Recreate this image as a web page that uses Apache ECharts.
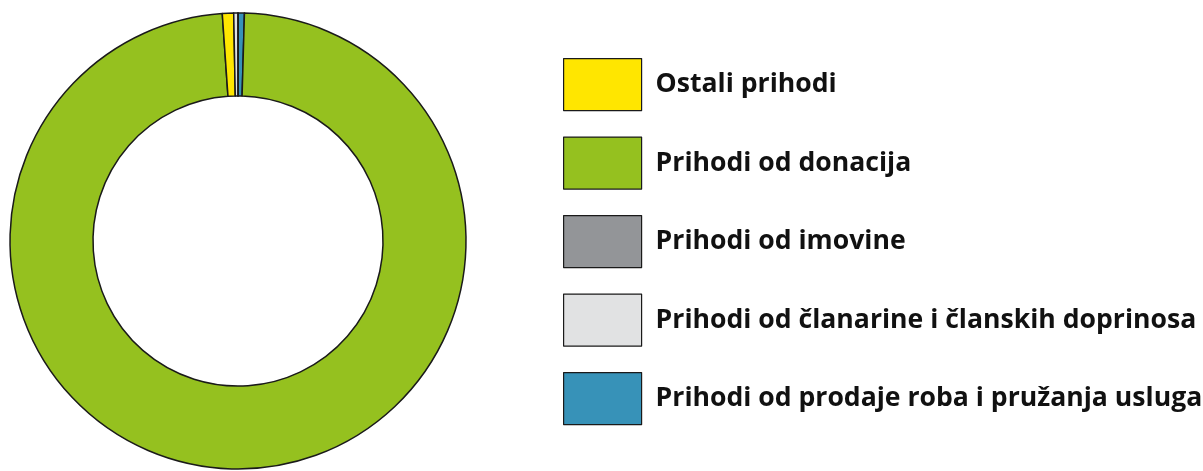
<!DOCTYPE html>
<html>
<head>
<meta charset="utf-8">
<script src="https://cdn.jsdelivr.net/npm/echarts@6/dist/echarts.min.js"></script>
<style>
  html, body { margin: 0; padding: 0; background: #fff; }
  #chart { width: 1203px; height: 471px; }
</style>
</head>
<body>
<div id="chart"></div>
<script>
// legend order
var legendNames = [
  "Ostali prihodi",
  "Prihodi od donacija",
  "Prihodi od imovine",
  "Prihodi od članarine i članskih doprinosa",
  "Prihodi od prodaje roba i pružanja usluga"
];
// slice order, clockwise from 12 o'clock
var sliceNames = [
  "Prihodi od prodaje roba i pružanja usluga",
  "Prihodi od donacija",
  "Ostali prihodi",
  "Prihodi od članarine i članskih doprinosa",
  "Prihodi od imovine"
];
var sliceValues = [0.45, 98.45, 0.8, 0.3, 0];
var colorByName = {
  "Ostali prihodi": "#ffe600",
  "Prihodi od donacija": "#95c11f",
  "Prihodi od imovine": "#939598",
  "Prihodi od članarine i članskih doprinosa": "#e1e2e3",
  "Prihodi od prodaje roba i pružanja usluga": "#3792b8"
};

(function () {
  var myChart = echarts.init(document.getElementById("chart"));
  var pieData = sliceNames.map(function (n, i) {
    return { name: n, value: sliceValues[i], itemStyle: { color: colorByName[n] } };
  });
  var option = {
    animation: false,
    legend: {
      orient: "vertical",
      left: 558,
      top: 53,
      data: legendNames,
      icon: "rect",
      itemWidth: 78,
      itemHeight: 52,
      itemGap: 25.3,
      selectedMode: false,
      itemStyle: { borderColor: "#1a1a1a", borderWidth: 1.2 },
      textStyle: {
        fontFamily: "Open Sans",
        fontWeight: "bold",
        fontSize: 26.6,
        color: "#111",
        padding: [0, 0, 4, 9]
      }
    },
    series: [
      {
        type: "pie",
        center: [238, 241],
        radius: [145, 228],
        startAngle: 90,
        clockwise: true,
        label: { show: false },
        labelLine: { show: false },
        silent: true,
        itemStyle: { borderColor: "#1a1a1a", borderWidth: 1.5 },
        data: pieData
      }
    ]
  };
  myChart.setOption(option);
  window.addEventListener("resize", function () {
    myChart.resize();
  });
})();
</script>
</body>
</html>
